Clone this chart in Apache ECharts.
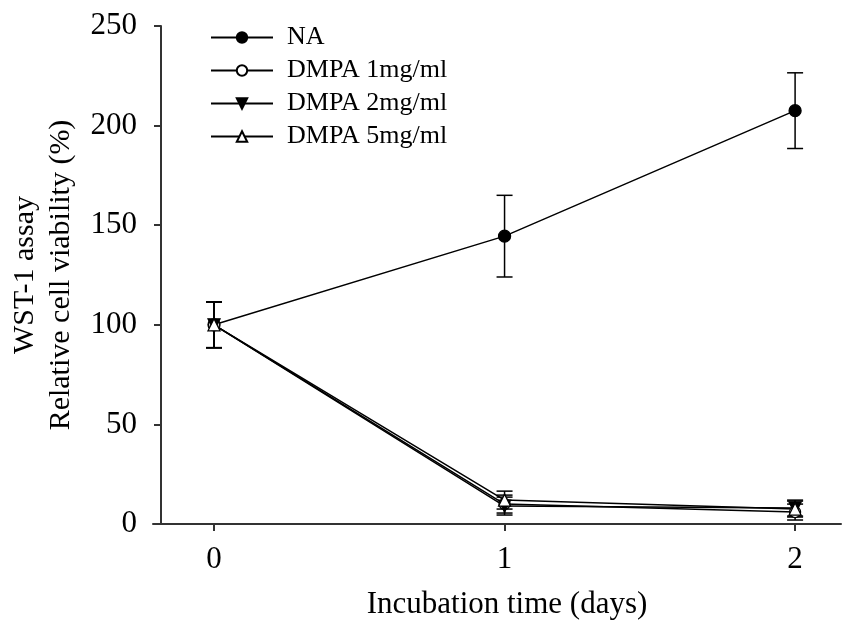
<!DOCTYPE html>
<html><head><meta charset="utf-8">
<script src="https://cdn.jsdelivr.net/npm/echarts@6/dist/echarts.min.js"></script>
<style>html,body{margin:0;padding:0;background:#fff}#c{width:843px;height:635px}</style>
</head><body><div id="c"></div>
<script>
var days = [0, 1, 2];
var xTicks = [0, 1, 2];
var seriesNames = ['NA', 'DMPA 1mg/ml', 'DMPA 2mg/ml', 'DMPA 5mg/ml'];
var naMean = [100, 144.5, 207.5];
var naErr = [11.5, 20.5, 19];
var dmpa1Mean = [100, 10, 6];
var dmpa1Err = [11.5, 4.5, 4];
var dmpa2Mean = [100, 9, 8];
var dmpa2Err = [11.5, 4.5, 4];
var dmpa5Mean = [100, 12, 7.5];
var dmpa5Err = [11.5, 4.5, 4];

var FONT = 'Liberation Serif';
var means = [naMean, dmpa1Mean, dmpa2Mean, dmpa5Mean];
var errs = [naErr, dmpa1Err, dmpa2Err, dmpa5Err];
var symbols = [
  {symbol: 'circle', size: 12, fill: '#000', rot: 0},
  {symbol: 'circle', size: 11, fill: '#fff', rot: 0},
  {symbol: 'triangle', size: 12, fill: '#000', rot: 180},
  {symbol: 'triangle', size: 12, fill: '#fff', rot: 0}
];

var series = [];
means.forEach(function (m, i) {
  var errData = days.map(function (d, j) { return [d, m[j] - errs[i][j], m[j] + errs[i][j]]; });
  series.push({
    type: 'custom',
    name: seriesNames[i] + '_err',
    data: errData,
    z: 1,
    silent: true,
    renderItem: function (params, api) {
      var x = api.value(0);
      var lo = api.coord([x, api.value(1)]);
      var hi = api.coord([x, api.value(2)]);
      var w = 8;
      var st = {stroke: '#000', lineWidth: 1.5};
      return {type: 'group', children: [
        {type: 'line', shape: {x1: lo[0], y1: lo[1], x2: hi[0], y2: hi[1]}, style: st},
        {type: 'line', shape: {x1: lo[0] - w, y1: lo[1], x2: lo[0] + w, y2: lo[1]}, style: st},
        {type: 'line', shape: {x1: hi[0] - w, y1: hi[1], x2: hi[0] + w, y2: hi[1]}, style: st}
      ]};
    }
  });
});
means.forEach(function (m, i) {
  series.push({
    type: 'line',
    name: seriesNames[i],
    data: days.map(function (d, j) { return [d, m[j]]; }),
    z: 3,
    symbol: symbols[i].symbol,
    symbolSize: symbols[i].size,
    symbolRotate: symbols[i].rot,
    showAllSymbol: true,
    lineStyle: {color: '#000', width: 1.5},
    itemStyle: {color: symbols[i].fill, borderColor: '#000', borderWidth: 1.3},
    emphasis: {disabled: true}
  });
});

var chart = echarts.init(document.getElementById('c'), null, {renderer: 'canvas'});
chart.setOption({
  animation: false,
  backgroundColor: '#fff',
  grid: {left: 153, right: 2, top: 26, bottom: 111, containLabel: false, outerBoundsMode: 'none'},
  legend: {
    data: seriesNames,
    orient: 'vertical',
    left: 205,
    top: 16,
    itemWidth: 62,
    itemHeight: 13,
    itemGap: 0,
    textStyle: {fontFamily: FONT, fontSize: 26, color: '#000', lineHeight: 33, padding: [0, 0, 0, 9]},
    selectedMode: false
  },
  xAxis: {
    type: 'value',
    min: -0.21,
    max: 2.158,
    name: 'Incubation time (days)',
    nameLocation: 'middle',
    nameGap: 65,
    nameTextStyle: {fontFamily: FONT, fontSize: 31, color: '#000', padding: [0, 0, 0, 20]},
    axisLine: {show: true, onZero: false, lineStyle: {color: '#333', width: 2}},
    axisTick: {show: true, length: 7, lineStyle: {color: '#333', width: 2}, customValues: xTicks},
    axisLabel: {fontFamily: FONT, fontSize: 31, color: '#000', margin: 20, customValues: xTicks},
    splitLine: {show: false}
  },
  yAxis: {
    type: 'value',
    min: 0,
    max: 250,
    interval: 50,
    offset: -8,
    name: 'WST-1 assay\nRelative cell viability (%)',
    nameLocation: 'middle',
    nameGap: 81,
    nameTextStyle: {fontFamily: FONT, fontSize: 30, color: '#000', lineHeight: 36},
    axisLine: {show: true, onZero: false, lineStyle: {color: '#333', width: 2}},
    axisTick: {show: true, length: 7, lineStyle: {color: '#333', width: 2}},
    axisLabel: {fontFamily: FONT, fontSize: 31, color: '#000', margin: 24},
    splitLine: {show: false}
  },
  series: series
});
</script></body></html>
